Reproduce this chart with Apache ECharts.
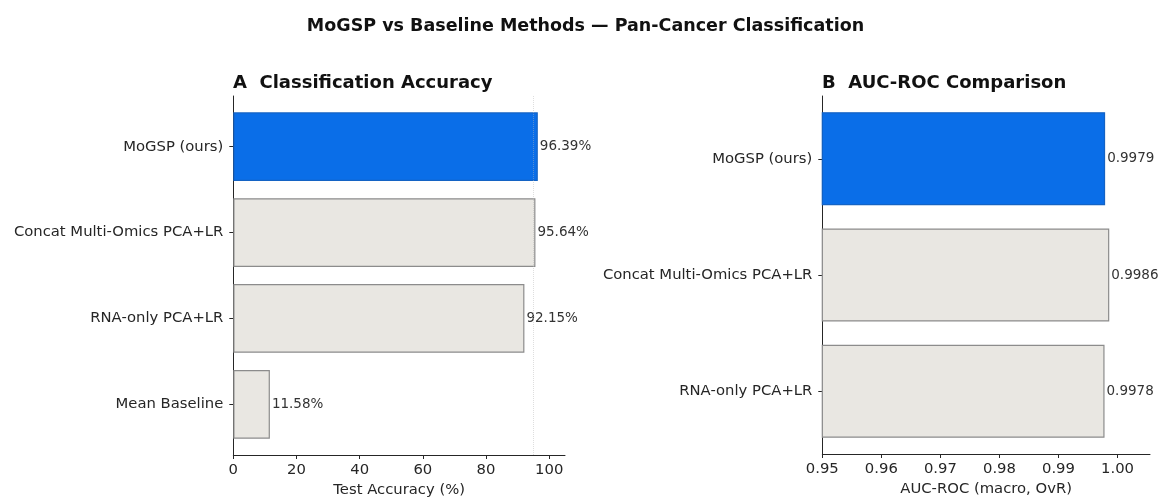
<!DOCTYPE html>
<html>
<head>
<meta charset="utf-8">
<script src="https://cdn.jsdelivr.net/npm/echarts@6/dist/echarts.min.js"></script>
<style>
  html, body { margin: 0; padding: 0; background: #ffffff; }
  #chart { width: 1171px; height: 499px; }
</style>
</head>
<body>
<div id="chart"></div>
<script>
// ---- data ----
const accCategories = ['MoGSP (ours)', 'Concat Multi-Omics PCA+LR', 'RNA-only PCA+LR', 'Mean Baseline'];
const accValues = [96.39, 95.64, 92.15, 11.58];
const accTicks = [0, 20, 40, 60, 80, 100];
const accRef = 95;

const aucCategories = ['MoGSP (ours)', 'Concat Multi-Omics PCA+LR', 'RNA-only PCA+LR'];
const aucValues = [0.9979, 0.9986, 0.9978];
const aucTicks = [0.95, 0.96, 0.97, 0.98, 0.99, 1.00];

const highlightMethod = 'MoGSP (ours)';

// ---- styling ----
const FONT = 'DejaVu Sans';
const INK = '#262626';
const BLUE = '#0a6ee8';
const BLUE_EDGE = '#1463c4';
const GREY = '#e9e7e2';
const GREY_EDGE = '#8c8c8c';

const chart = echarts.init(document.getElementById('chart'), null, { renderer: 'canvas' });

// Panel frames (axes boxes)
const panels = [
  { left: 233.3, right: 565, top: 96, bottom: 455, cats: accCategories, vals: accValues,
    min: 0, max: 105, ticks: accTicks, name: 'Test Accuracy (%)',
    tickFmt: v => String(Math.round(v)), labelFmt: v => v.toFixed(2) + '%' },
  { left: 822.3, right: 1150, top: 96, bottom: 454, cats: aucCategories, vals: aucValues,
    min: 0.95, max: 1.0055, ticks: aucTicks, name: 'AUC-ROC (macro, OvR)',
    tickFmt: v => v.toFixed(2), labelFmt: v => v.toFixed(4) }
];

const grid = [], xAxis = [], yAxis = [], series = [];

panels.forEach((p, i) => {
  const n = p.cats.length;
  const H = p.bottom - p.top;
  // bar-chart style padding: 5% of the bar span on each side
  const m = 0.05 * (n - 0.2);
  const band = H / (n - 0.2 + 2 * m);
  const innerTop = p.top + (m - 0.1) * band;
  const innerH = band * n;

  const outer = grid.length;
  grid.push({ left: p.left, top: p.top, width: p.right - p.left, height: H,
              containLabel: false, outerBoundsMode: 'none' });
  const inner = grid.length;
  grid.push({ left: p.left, top: innerTop, width: p.right - p.left, height: innerH,
              containLabel: false, outerBoundsMode: 'none' });

  // outer frame: x-axis with ticks, left spine
  xAxis.push({
    gridIndex: outer, type: 'value', min: p.min, max: p.max,
    axisLine: { show: true, onZero: false, lineStyle: { color: INK, width: 1 } },
    axisTick: { show: true, length: 4, customValues: p.ticks, lineStyle: { color: INK } },
    axisLabel: { customValues: p.ticks, formatter: p.tickFmt, color: INK, fontFamily: FONT, fontSize: 14.8, margin: 8 },
    splitLine: { show: false },
    name: p.name, nameLocation: 'middle', nameGap: 28,
    nameTextStyle: { color: INK, fontFamily: FONT, fontSize: 14.8 }
  });
  yAxis.push({
    gridIndex: outer, type: 'value', min: 0, max: 1,
    axisLine: { show: true, lineStyle: { color: INK, width: 1 } },
    axisTick: { show: false }, axisLabel: { show: false }, splitLine: { show: false }
  });

  // inner: categories + bars
  xAxis.push({ gridIndex: inner, type: 'value', min: p.min, max: p.max, show: false });
  yAxis.push({
    gridIndex: inner, type: 'category', data: p.cats, inverse: true,
    axisLine: { show: false },
    axisTick: { show: true, alignWithLabel: true, length: 4, lineStyle: { color: INK } },
    axisLabel: { color: INK, fontFamily: FONT, fontSize: 14.8, margin: 10 },
    splitLine: { show: false }
  });

  const outerX = xAxis.length - 2, outerY = yAxis.length - 2;
  const innerX = xAxis.length - 1, innerY = yAxis.length - 1;

  if (i === 0) {
    // faint reference line spanning the full axes height
    series.push({
      type: 'line', xAxisIndex: outerX, yAxisIndex: outerY, data: [],
      silent: true, z: 1,
      markLine: {
        silent: true, symbol: 'none', label: { show: false },
        lineStyle: { color: '#b5b5b5', opacity: 0.45, width: 1, type: 'dotted' },
        data: [{ xAxis: accRef }]
      }
    });
  }

  series.push({
    type: 'bar', xAxisIndex: innerX, yAxisIndex: innerY,
    barWidth: '80%', z: 2,
    data: p.vals.map((v, k) => {
      const hi = p.cats[k] === highlightMethod;
      return {
        value: v,
        itemStyle: { color: hi ? BLUE : GREY, borderColor: hi ? BLUE_EDGE : GREY_EDGE, borderWidth: 1.2 }
      };
    }),
    label: {
      show: true, position: 'right', distance: 2,
      formatter: prm => p.labelFmt(prm.value),
      color: '#333333', fontFamily: FONT, fontSize: 13.5
    }
  });
});

chart.setOption({
  backgroundColor: '#ffffff',
  animation: false,
  title: [
    { text: 'MoGSP vs Baseline Methods \u2014 Pan-Cancer Classification', left: 'center', top: 17, padding: 0,
      textStyle: { fontFamily: FONT, fontSize: 17.5, fontWeight: 'bold', color: '#111' } },
    { text: 'A  Classification Accuracy', left: 233, top: 74, padding: 0,
      textStyle: { fontFamily: FONT, fontSize: 18, fontWeight: 'bold', color: '#111' } },
    { text: 'B  AUC-ROC Comparison', left: 822, top: 74, padding: 0,
      textStyle: { fontFamily: FONT, fontSize: 18, fontWeight: 'bold', color: '#111' } }
  ],
  grid, xAxis, yAxis, series
});
</script>
</body>
</html>
